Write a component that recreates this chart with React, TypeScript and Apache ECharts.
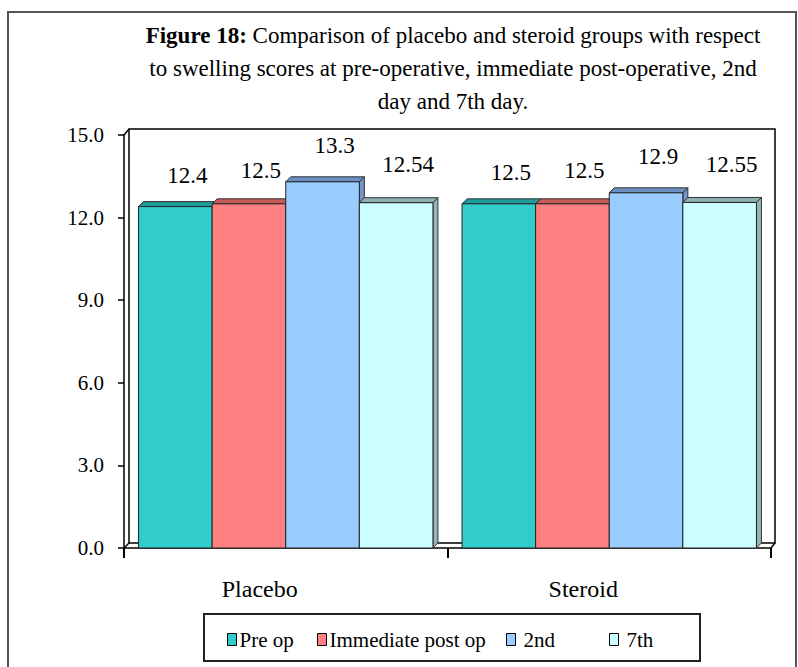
import React, { useEffect, useRef } from "react";
import * as echarts from "echarts";

const categories = ["Placebo", "Steroid"];
const seriesNames = ["Pre op", "Immediate post op", "2nd", "7th"];
const preOp = [12.4, 12.5];
const immediatePostOp = [12.5, 12.5];
const secondDay = [13.3, 12.9];
const seventhDay = [12.54, 12.55];
const valueLabels = [
  ["12.4", "12.5"],
  ["12.5", "12.5"],
  ["13.3", "12.9"],
  ["12.54", "12.55"],
];
const yTicks = { min: 0, max: 15, interval: 3 };

const FONT = "Liberation Serif";
const frontColors = ["#33CCCC", "#FF8080", "#99CCFF", "#CCFFFF"];
const topColors = ["#1E9C9A", "#C85A5A", "#6C90C4", "#8DB0B0"];
const sideColors = ["#229E9C", "#CC6060", "#7395C8", "#94B6B6"];
const labelDy = [-31, -33, -36, -38];
const labelDx = 12;
const DX = 5;
const DY = 5;

export default function App() {
  const ref = useRef<HTMLDivElement>(null);
  useEffect(() => {
    if (!ref.current) return;
    const chart = echarts.init(ref.current, null, { renderer: "svg" });
    const allValues = [preOp, immediatePostOp, secondDay, seventhDay];

    const makeSeries = (si: number) => ({
      type: "custom",
      name: seriesNames[si],
      xAxisIndex: 0,
      yAxisIndex: 0,
      z: 5,
      itemStyle: { color: frontColors[si], borderColor: "#000", borderWidth: 1 },
      data: allValues[si].map((v, i) => [i, v]),
      renderItem: (params: any, api: any) => {
        const ci = api.value(0);
        const val = api.value(1);
        const base = api.coord([ci, 0]);
        const top = api.coord([ci, val]);
        const catW = api.size([1, 0])[0];
        const groupW = catW * 0.91;
        const barW = groupW / 4;
        const x0 = base[0] - groupW / 2 + si * barW;
        const x1 = x0 + barW;
        const yT = top[1];
        const yB = base[1];
        return {
          type: "group",
          children: [
            {
              type: "polygon",
              shape: { points: [[x1, yT], [x1 + DX, yT - DY], [x1 + DX, yB - DY], [x1, yB]] },
              style: { fill: sideColors[si], stroke: "#333", lineWidth: 1 },
            },
            {
              type: "polygon",
              shape: { points: [[x0, yT], [x0 + DX, yT - DY], [x1 + DX, yT - DY], [x1, yT]] },
              style: { fill: topColors[si], stroke: "#333", lineWidth: 1 },
            },
            {
              type: "rect",
              shape: { x: x0, y: yT, width: barW, height: yB - yT },
              style: { fill: frontColors[si], stroke: "#222", lineWidth: 1 },
            },
            {
              type: "text",
              x: x0 + barW / 2 + labelDx,
              y: yT + labelDy[si],
              style: {
                text: valueLabels[si][ci],
                fill: "#000",
                fontSize: 23,
                fontFamily: FONT,
                align: "center",
                verticalAlign: "middle",
              },
            },
          ],
        };
      },
    });

    const legendLefts = [227, 317, 506, 609];
    const legends = seriesNames.map((n, i) => ({
      data: [n],
      left: legendLefts[i],
      top: 629,
      padding: 0,
      icon: "rect",
      itemWidth: 9,
      itemHeight: 12,
      itemGap: 0,
      selectedMode: false,
      itemStyle: { borderColor: "#000", borderWidth: 1 },
      textStyle: { fontFamily: FONT, fontSize: 21, color: "#000", padding: [0, 0, 0, i >= 2 ? 3 : -2] },
    }));

    chart.setOption({
      animation: false,
      backgroundColor: "#fff",
      title: {
        text:
          "{b|Figure 18:} Comparison of placebo and steroid groups with respect\nto swelling scores at pre-operative, immediate post-operative, 2nd\nday and 7th day.",
        left: 448,
        top: 14,
        textAlign: "center",
        textStyle: {
          fontFamily: FONT,
          fontSize: 23,
          fontWeight: "normal",
          color: "#000",
          lineHeight: 33,
          rich: {
            b: { fontFamily: FONT, fontSize: 23, fontWeight: "bold", color: "#000", lineHeight: 33 },
          },
        },
      },
      legend: legends,
      grid: [
        { left: 124, right: 27, top: 135, bottom: 119, containLabel: false },
        {
          left: 129,
          right: 23,
          top: 129,
          bottom: 124,
          show: true,
          borderColor: "#000",
          borderWidth: 1.5,
          backgroundColor: "#fff",
          z: 0,
        },
      ],
      xAxis: [
        {
          type: "category",
          gridIndex: 0,
          data: categories,
          axisLine: { show: true, lineStyle: { color: "#000", width: 1.5 } },
          axisTick: { show: true, length: 10, lineStyle: { color: "#000", width: 2 } },
          axisLabel: {
            margin: 29,
            fontFamily: FONT,
            fontSize: 24,
            color: "#000",
            padding: [0, 52, 0, 0],
          },
          splitLine: { show: false },
        },
        { type: "category", gridIndex: 1, data: categories, show: false },
      ],
      yAxis: [
        {
          type: "value",
          gridIndex: 0,
          min: yTicks.min,
          max: yTicks.max,
          interval: yTicks.interval,
          axisLine: { show: true, lineStyle: { color: "#000", width: 1.5 } },
          axisTick: { show: true, length: 6, lineStyle: { color: "#000", width: 1.5 } },
          axisLabel: {
            margin: 20,
            fontFamily: FONT,
            fontSize: 21,
            color: "#000",
            formatter: (v: number) => v.toFixed(1),
          },
          splitLine: { show: false },
        },
        { type: "value", gridIndex: 1, show: false, min: 0, max: 15 },
      ],
      graphic: [
        {
          type: "rect",
          shape: { x: 8, y: 12, width: 788, height: 680 },
          style: { fill: "none", stroke: "#555", lineWidth: 2 },
          z: -10,
          silent: true,
        },
        {
          type: "rect",
          shape: { x: 204, y: 614, width: 496, height: 47 },
          style: { fill: "none", stroke: "#222", lineWidth: 2 },
          silent: true,
        },
        {
          type: "line",
          shape: { x1: 124, y1: 135, x2: 129, y2: 129 },
          style: { stroke: "#000", lineWidth: 1.5 },
          silent: true,
        },
        {
          type: "line",
          shape: { x1: 124, y1: 548, x2: 129, y2: 543 },
          style: { stroke: "#000", lineWidth: 1.5 },
          silent: true,
        },
        {
          type: "line",
          shape: { x1: 771, y1: 548, x2: 775, y2: 543 },
          style: { stroke: "#000", lineWidth: 1.5 },
          silent: true,
        },
      ],
      series: [0, 1, 2, 3].map(makeSeries),
    });
    return () => chart.dispose();
  }, []);
  return <div ref={ref} style={{ width: 798, height: 667, position: "absolute", left: 0, top: 0 }} />;
}
